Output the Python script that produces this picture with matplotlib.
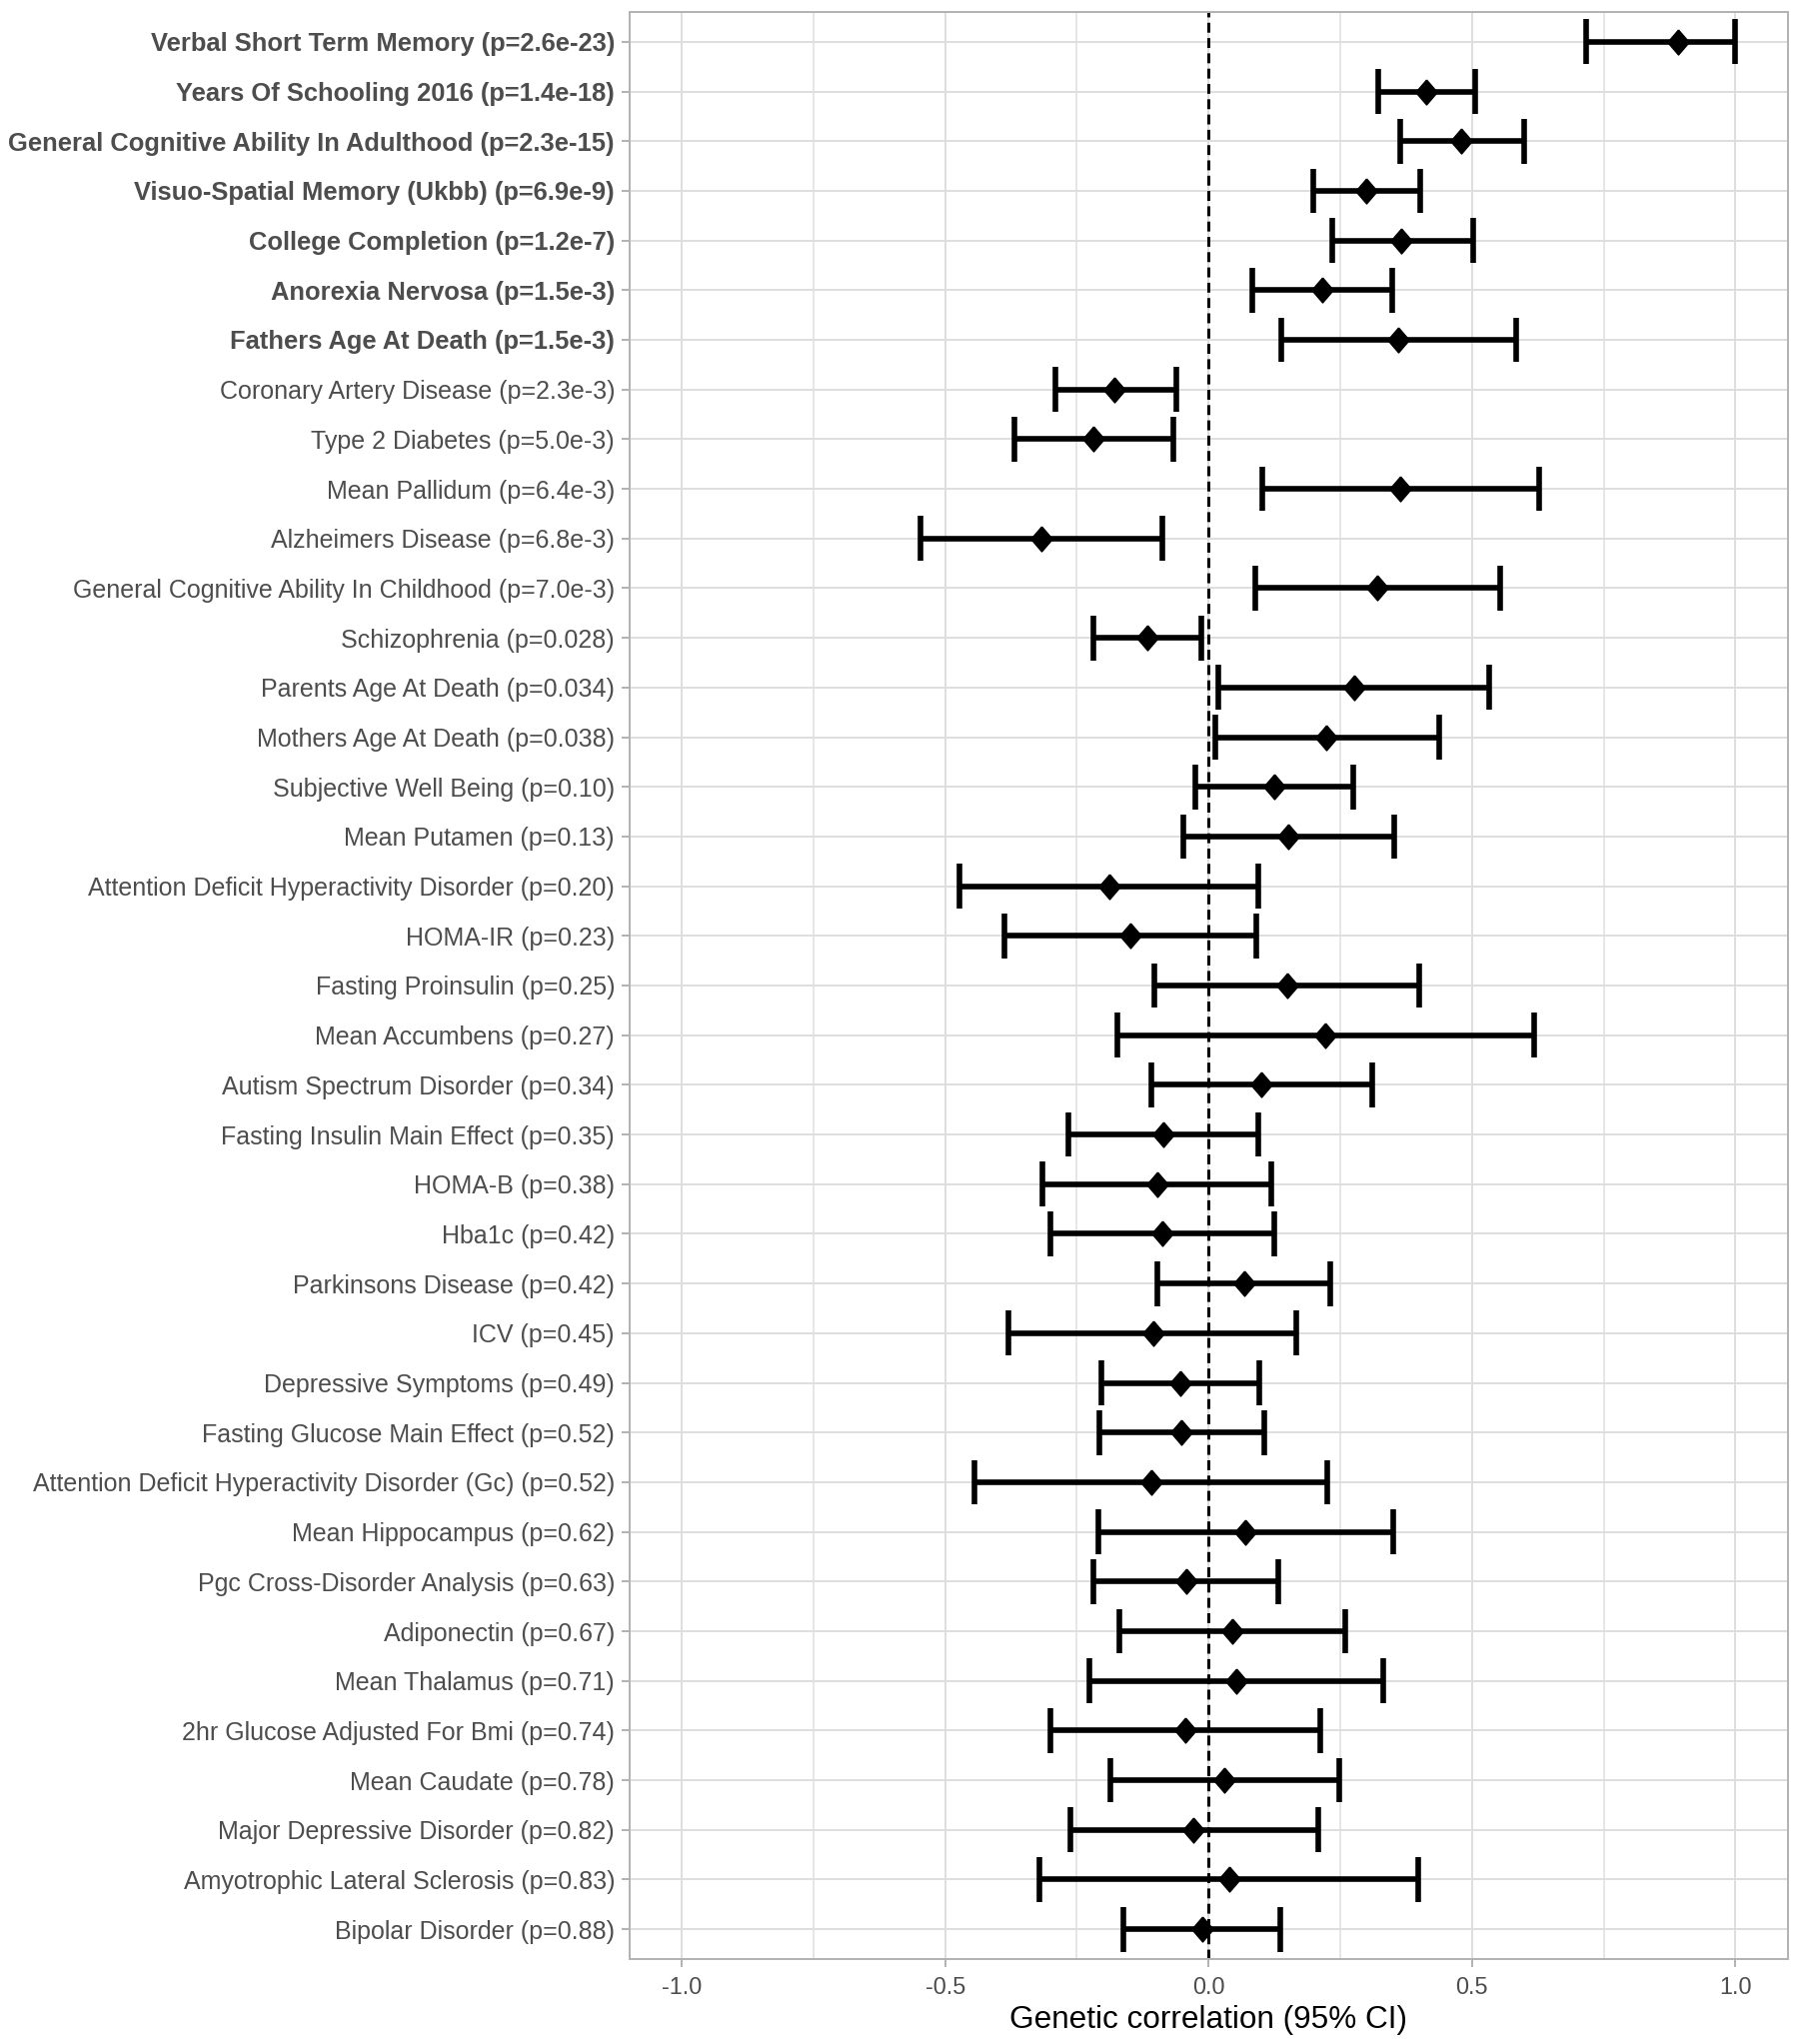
import numpy as np
import matplotlib
matplotlib.use('Agg')
import matplotlib.pyplot as plt
from matplotlib.ticker import MultipleLocator

# traits, top to bottom as in the figure
traits = [
    'Verbal Short Term Memory', 'Years Of Schooling 2016',
    'General Cognitive Ability In Adulthood', 'Visuo-Spatial Memory (Ukbb)',
    'College Completion', 'Anorexia Nervosa', 'Fathers Age At Death',
    'Coronary Artery Disease', 'Type 2 Diabetes', 'Mean Pallidum',
    'Alzheimers Disease', 'General Cognitive Ability In Childhood',
    'Schizophrenia', 'Parents Age At Death', 'Mothers Age At Death',
    'Subjective Well Being', 'Mean Putamen',
    'Attention Deficit Hyperactivity Disorder', 'HOMA-IR',
    'Fasting Proinsulin', 'Mean Accumbens', 'Autism Spectrum Disorder',
    'Fasting Insulin Main Effect', 'HOMA-B', 'Hba1c', 'Parkinsons Disease',
    'ICV', 'Depressive Symptoms', 'Fasting Glucose Main Effect',
    'Attention Deficit Hyperactivity Disorder (Gc)', 'Mean Hippocampus',
    'Pgc Cross-Disorder Analysis', 'Adiponectin', 'Mean Thalamus',
    '2hr Glucose Adjusted For Bmi', 'Mean Caudate',
    'Major Depressive Disorder', 'Amyotrophic Lateral Sclerosis',
    'Bipolar Disorder',
]
p_text = [
    '2.6e-23', '1.4e-18', '2.3e-15', '6.9e-9', '1.2e-7', '1.5e-3', '1.5e-3',
    '2.3e-3', '5.0e-3', '6.4e-3', '6.8e-3', '7.0e-3', '0.028', '0.034',
    '0.038', '0.10', '0.13', '0.20', '0.23', '0.25', '0.27', '0.34', '0.35',
    '0.38', '0.42', '0.42', '0.45', '0.49', '0.52', '0.52', '0.62', '0.63',
    '0.67', '0.71', '0.74', '0.78', '0.82', '0.83', '0.88',
]
n_significant = 7  # bold labels

rg = [
    0.891, 0.414, 0.480, 0.299, 0.365, 0.215, 0.360, -0.178, -0.219, 0.364,
    -0.318, 0.321, -0.117, 0.276, 0.224, 0.124, 0.151, -0.188, -0.149, 0.149,
    0.222, 0.101, -0.086, -0.097, -0.088, 0.068, -0.105, -0.054, -0.052,
    -0.109, 0.070, -0.043, 0.045, 0.053, -0.044, 0.030, -0.029, 0.039, -0.012,
]
ci_low = [
    0.716, 0.323, 0.363, 0.199, 0.234, 0.083, 0.138, -0.291, -0.369, 0.102,
    -0.547, 0.088, -0.219, 0.019, 0.013, -0.026, -0.047, -0.473, -0.388,
    -0.102, -0.174, -0.109, -0.266, -0.315, -0.301, -0.097, -0.379, -0.203,
    -0.208, -0.445, -0.209, -0.219, -0.169, -0.227, -0.300, -0.187, -0.263,
    -0.322, -0.161,
]
ci_high = [
    1.000, 0.506, 0.600, 0.401, 0.503, 0.348, 0.584, -0.062, -0.067, 0.628,
    -0.087, 0.554, -0.014, 0.533, 0.437, 0.274, 0.352, 0.095, 0.091, 0.399,
    0.619, 0.310, 0.095, 0.119, 0.125, 0.231, 0.167, 0.097, 0.105, 0.226,
    0.351, 0.132, 0.260, 0.332, 0.212, 0.248, 0.208, 0.398, 0.137,
]

px = 72 / 100  # points per pixel at dpi=100

plt.rcParams['font.family'] = ['Liberation Sans', 'DejaVu Sans']

fig = plt.figure(figsize=(18, 20.45), dpi=100)
ax = fig.add_axes([629.5 / 1800, 1 - 1960 / 2045,
                   (1789 - 629.5) / 1800, (1960 - 12) / 2045])

n = len(traits)
y = np.arange(n)[::-1]
labels = [f'{t} (p={p})' for t, p in zip(traits, p_text)]

ax.set_xlim(-1.1, 1.1)
ax.set_ylim(-0.6, n - 0.4)
ax.xaxis.set_major_locator(MultipleLocator(0.5))
ax.xaxis.set_minor_locator(MultipleLocator(0.25))
ax.set_yticks(y)
ax.set_yticklabels(labels)

# light theme
ax.set_axisbelow(True)
ax.grid(which='major', color='#DEDEDE', lw=2 * px)
ax.grid(which='minor', axis='x', color='#DEDEDE', lw=1.5 * px)
for s in ax.spines.values():
    s.set_color('#B3B3B3')
    s.set_linewidth(2 * px)
ax.tick_params(which='major', length=8 * px, width=2 * px, color='#B3B3B3',
               labelcolor='#4D4D4D')
ax.tick_params(which='minor', length=0)
ax.tick_params(axis='y', labelsize=25 * px, pad=6.5 * px)
ax.tick_params(axis='x', labelsize=23.5 * px, pad=9 * px)
ax.xaxis.set_major_formatter(matplotlib.ticker.FormatStrFormatter('%.1f'))

for i, lab in enumerate(ax.get_yticklabels()):
    if i < n_significant:
        lab.set_fontweight('bold')
        lab.set_fontsize(25.5 * px)

ax.axvline(0, color='black', lw=3 * px, linestyle=(0, (3.3, 1.8)), zorder=2)

bar_lw = 5.6 * px
ax.hlines(y, ci_low, ci_high, color='black', lw=bar_lw, zorder=3)
ax.vlines(ci_low, y - 0.45, y + 0.45, color='black', lw=bar_lw, zorder=3)
ax.vlines(ci_high, y - 0.45, y + 0.45, color='black', lw=bar_lw, zorder=3)
diamond = [(0, 1), (0.86, 0), (0, -1), (-0.86, 0), (0, 1)]
ax.plot(rg, y, linestyle='none', marker=diamond, markersize=25 * px,
        color='black', zorder=4)

ax.set_xlabel('Genetic correlation (95% CI)', fontsize=31.5 * px, color='black',
              labelpad=6 * px)

fig.savefig('out.png', dpi=100)
